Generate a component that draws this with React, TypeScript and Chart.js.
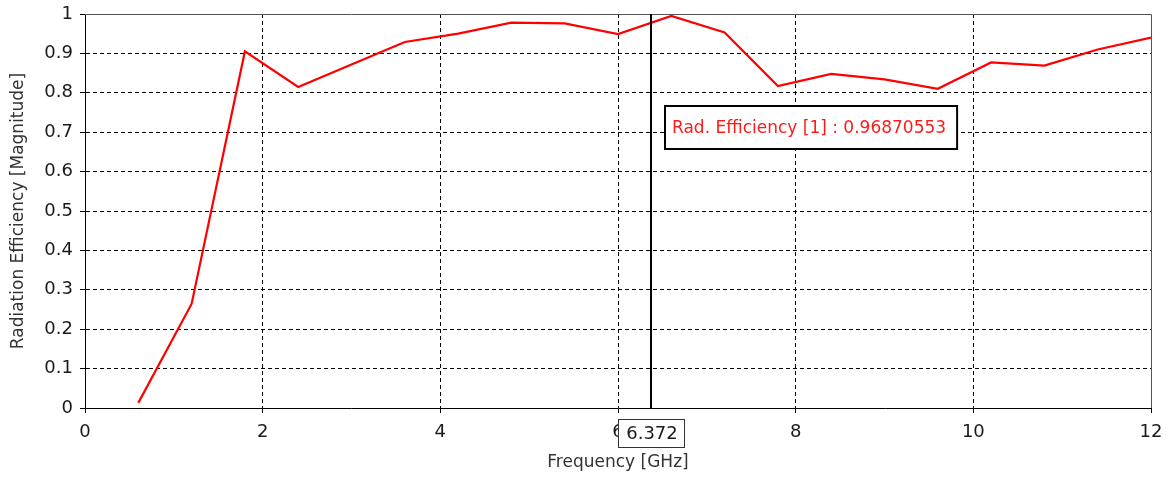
import React, { useEffect, useRef } from "react";
import { Chart, registerables } from "chart.js";

Chart.register(...registerables);

const frequencies = [0.6, 1.2, 1.8, 2.4, 3.0, 3.6, 4.2, 4.8, 5.4, 6.0, 6.6, 7.2, 7.8, 8.4, 9.0, 9.6, 10.2, 10.8, 11.4, 12.0];
const efficiency = [0.013, 0.264, 0.905, 0.815, 0.872, 0.929, 0.950, 0.978, 0.976, 0.949, 0.995, 0.953, 0.817, 0.848, 0.834, 0.810, 0.877, 0.869, 0.910, 0.940];
const xTicks = [0, 2, 4, 6, 8, 10, 12];
const yTicks = [0, 0.1, 0.2, 0.3, 0.4, 0.5, 0.6, 0.7, 0.8, 0.9, 1];
const markerX = 6.372;
const markerXLabel = "6.372";
const markerText = "Rad. Efficiency [1] : 0.96870553";
const markerBoxY = 0.767;
const xTitle = "Frequency [GHz]";
const yTitle = "Radiation Efficiency [Magnitude]";

const FONT = "DejaVu Sans";

const overlayPlugin = {
  id: "overlay",
  afterDraw(chart: any) {
    const { ctx, chartArea, scales } = chart;
    const xs = scales.x;
    const ys = scales.y;
    ctx.save();
    // frame top and right
    ctx.strokeStyle = "#555";
    ctx.lineWidth = 1;
    ctx.beginPath();
    ctx.moveTo(chartArea.left, chartArea.top + 0.5);
    ctx.lineTo(chartArea.right + 0.5, chartArea.top + 0.5);
    ctx.lineTo(chartArea.right + 0.5, chartArea.bottom);
    ctx.stroke();

    // cursor line
    const cx = Math.round(xs.getPixelForValue(markerX));
    ctx.strokeStyle = "#000";
    ctx.lineWidth = 2;
    ctx.beginPath();
    ctx.moveTo(cx, chartArea.top);
    ctx.lineTo(cx, chartArea.bottom);
    ctx.stroke();

    // annotation box
    ctx.font = `17px "${FONT}"`;
    const tw = ctx.measureText(markerText).width;
    const bx = cx + 14;
    const by = Math.round(ys.getPixelForValue(markerBoxY));
    const bw = tw + 18;
    const bh = 43;
    ctx.fillStyle = "#fff";
    ctx.fillRect(bx, by, bw, bh);
    ctx.strokeStyle = "#000";
    ctx.lineWidth = 2;
    ctx.strokeRect(bx, by, bw, bh);
    ctx.fillStyle = "#ff1a1a";
    ctx.textBaseline = "middle";
    ctx.textAlign = "left";
    ctx.fillText(markerText, bx + 7, by + bh / 2 + 1);

    // x label box
    ctx.font = `18px "${FONT}"`;
    const lw = 66;
    const lh = 28;
    const lx = cx - lw / 2;
    const ly = chartArea.bottom + 11;
    ctx.fillStyle = "#fff";
    ctx.fillRect(lx, ly, lw, lh);
    ctx.strokeStyle = "#333";
    ctx.lineWidth = 1;
    ctx.strokeRect(lx + 0.5, ly + 0.5, lw, lh);
    ctx.fillStyle = "#1a1a1a";
    ctx.textAlign = "center";
    ctx.fillText(markerXLabel, cx + 1, ly + lh / 2 + 1);

    // axis titles
    ctx.font = `17px "${FONT}"`;
    ctx.fillStyle = "#333";
    ctx.textAlign = "center";
    ctx.textBaseline = "middle";
    ctx.fillText(xTitle, (chartArea.left + chartArea.right) / 2, 463);
    ctx.translate(19, (chartArea.top + chartArea.bottom) / 2);
    ctx.rotate(-Math.PI / 2);
    ctx.fillText(yTitle, 0, 0);
    ctx.restore();
  },
};

export default function App() {
  const ref = useRef<HTMLCanvasElement | null>(null);
  useEffect(() => {
    document.body.style.margin = "0";
    const canvas = ref.current;
    if (!canvas) return;
    const chart = new Chart(canvas, {
      type: "line",
      data: {
        datasets: [
          {
            data: frequencies.map((f, i) => ({ x: f, y: efficiency[i] })),
            borderColor: "#ff0000",
            borderWidth: 2.2,
            pointRadius: 0,
            tension: 0,
            fill: false,
          },
        ],
      },
      options: {
        responsive: false,
        animation: false,
        layout: { padding: { left: 0, top: 14, right: 22, bottom: 0 } },
        plugins: { legend: { display: false }, tooltip: { enabled: false } },
        scales: {
          x: {
            type: "linear",
            min: 0,
            max: 12,
            afterFit: (s: any) => {
              s.height = 72;
              s.paddingLeft = 0;
              s.paddingRight = 0;
            },
            afterBuildTicks: (s: any) => {
              s.ticks = xTicks.map((v) => ({ value: v }));
            },
            ticks: {
              padding: 9,
              color: "#1a1a1a",
              font: { family: FONT, size: 18 },
              maxRotation: 0,
              callback: (v: any) => String(v),
            },
            grid: {
              color: (c: any) =>
                c.tick && (c.tick.value === 0 || c.tick.value === 12) ? "rgba(0,0,0,0)" : "#000",
              tickColor: "#000",
              tickLength: 5,
              lineWidth: 1,
            },
            border: { color: "#000", width: 1, dash: [4, 3] },
          },
          y: {
            type: "linear",
            min: 0,
            max: 1,
            afterFit: (s: any) => {
              s.width = 85;
              s.paddingTop = 0;
              s.paddingBottom = 0;
            },
            afterBuildTicks: (s: any) => {
              s.ticks = yTicks.map((v) => ({ value: v }));
            },
            ticks: {
              padding: 7,
              color: "#1a1a1a",
              font: { family: FONT, size: 18 },
              callback: (v: any) => String(Number(Number(v).toFixed(1))),
            },
            grid: {
              color: (c: any) =>
                c.tick && (c.tick.value === 0 || c.tick.value === 1) ? "rgba(0,0,0,0)" : "#000",
              tickColor: "#000",
              tickLength: 5,
              lineWidth: 1,
            },
            border: { color: "#000", width: 1, dash: [4, 3] },
          },
        },
      },
      plugins: [overlayPlugin],
    });
    return () => chart.destroy();
  }, []);
  return (
    <div style={{ width: 1173, height: 480 }}>
      <canvas ref={ref} width={1173} height={480} style={{ display: "block" }} />
    </div>
  );
}
